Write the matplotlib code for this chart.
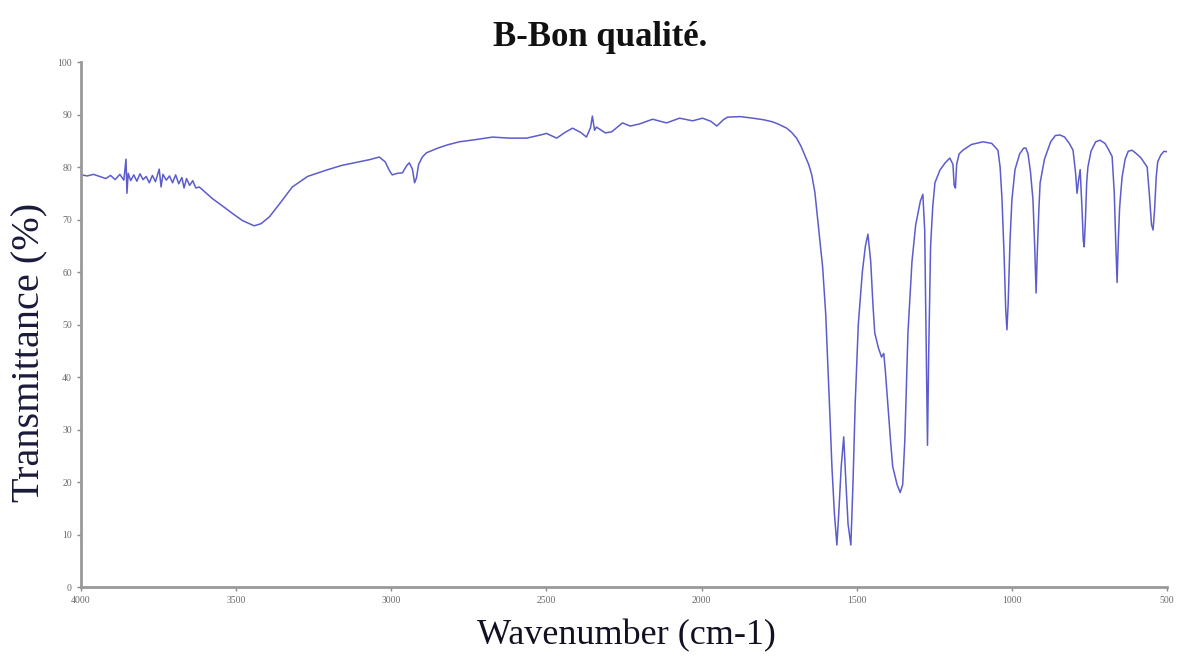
import matplotlib.pyplot as plt

# IR spectrum, wavenumber (cm-1) vs transmittance (%)
wavenumber = [
    3998, 3980, 3960, 3940, 3920, 3905, 3890, 3875, 3862, 3855, 3852, 3848,
    3840, 3830, 3820, 3810, 3800, 3790, 3780, 3770, 3760, 3748, 3742, 3736,
    3725, 3715, 3705, 3695, 3685, 3675, 3668, 3660, 3650, 3640, 3630, 3619,
    3577, 3540, 3513, 3480, 3442, 3420, 3393, 3360, 3319, 3270, 3210, 3160,
    3103, 3070, 3039, 3020, 3005, 2997, 2980, 2964, 2950, 2942, 2932, 2925,
    2919, 2912, 2900, 2887, 2850, 2820, 2781, 2730, 2674, 2620, 2564, 2519,
    2500, 2467, 2440, 2416, 2390, 2371, 2358, 2352, 2345, 2339, 2310, 2290,
    2255, 2230, 2200, 2158, 2113, 2071, 2029, 1997, 1970, 1951, 1930, 1916,
    1875, 1835, 1800, 1771, 1750, 1726, 1710, 1694, 1680, 1668, 1655, 1645,
    1635, 1629, 1620, 1610, 1600, 1593, 1586, 1580, 1572, 1564, 1558, 1550,
    1542, 1535, 1528, 1519, 1512, 1505, 1495, 1482, 1472, 1464, 1455, 1448,
    1442, 1430, 1420, 1413, 1408, 1400, 1390, 1384, 1370, 1360, 1352, 1345,
    1335, 1322, 1310, 1295, 1287, 1281, 1276, 1272, 1268, 1262, 1255, 1248,
    1232, 1215, 1200, 1190, 1186, 1182, 1178, 1170, 1158, 1130, 1093, 1065,
    1045, 1038, 1032, 1025, 1020, 1016, 1012, 1006, 1000, 990, 975, 962,
    955, 948, 940, 932, 926, 922, 918, 913, 909, 895, 875, 860,
    845, 830, 815, 803, 795, 790, 785, 780, 774, 770, 767, 763,
    759, 755, 745, 730, 716, 700, 690, 677, 670, 665, 661, 657,
    653, 651, 645, 635, 625, 613, 600, 585, 570, 564, 556, 550,
    545, 540, 535, 530, 520, 510, 500,
]
transmittance = [
    78.5, 78.3, 78.6, 78.2, 77.8, 78.4, 77.6, 78.6, 77.5, 81.5, 75.0, 78.8,
    77.4, 78.5, 77.3, 78.7, 77.6, 78.2, 77.0, 78.4, 77.2, 79.6, 76.2, 78.6,
    77.5, 78.3, 77.0, 78.5, 76.8, 78.0, 76.0, 77.8, 76.5, 77.4, 76.0, 76.2,
    74.0, 72.4, 71.2, 69.8, 68.8, 69.2, 70.5, 73.0, 76.2, 78.2, 79.4, 80.3,
    81.0, 81.4, 81.9, 81.0, 79.2, 78.5, 78.8, 78.9, 80.3, 80.8, 79.6, 77.0,
    77.9, 80.5, 81.9, 82.7, 83.6, 84.2, 84.8, 85.2, 85.7, 85.5, 85.5, 86.1,
    86.4, 85.5, 86.6, 87.4, 86.6, 85.7, 87.5, 89.7, 87.0, 87.6, 86.5, 86.7,
    88.4, 87.8, 88.2, 89.1, 88.4, 89.3, 88.8, 89.3, 88.7, 87.8, 89.0, 89.5,
    89.6, 89.3, 89.0, 88.6, 88.1, 87.4, 86.6, 85.5, 84.0, 82.3, 80.5, 78.5,
    75.2, 71.8, 66.5, 61.0, 52.0, 42.0, 32.0, 22.9, 14.0, 8.0, 14.0, 23.0,
    28.6, 20.0, 12.0, 8.0, 20.0, 35.0, 50.0, 60.0, 65.0, 67.2, 62.0, 54.0,
    48.4, 45.5, 43.8, 44.5, 41.3, 35.0, 27.0, 22.9, 19.5, 18.0, 19.5, 28.0,
    48.4, 62.0, 69.0, 73.5, 74.8, 68.0, 45.0, 27.0, 45.0, 65.0, 72.5, 77.0,
    79.4, 80.8, 81.7, 80.5, 76.5, 76.0, 80.5, 82.5, 83.2, 84.3, 84.8, 84.5,
    83.2, 80.0, 74.0, 63.0, 53.0, 49.0, 54.0, 66.0, 73.7, 79.5, 82.5, 83.6,
    83.6, 82.5, 79.0, 73.7, 64.0, 56.0, 64.0, 72.0, 77.0, 81.5, 84.8, 86.0,
    86.1, 85.7, 84.5, 83.2, 79.0, 75.0, 77.5, 79.5, 72.0, 66.0, 64.8, 70.0,
    77.0, 80.0, 83.0, 84.8, 85.1, 84.5, 83.5, 82.0, 75.0, 65.0, 58.0, 66.0,
    72.0, 73.7, 78.0, 81.5, 83.0, 83.2, 82.6, 81.8, 80.5, 80.0, 74.0, 69.0,
    68.0, 72.0, 78.0, 81.0, 82.3, 83.0, 82.9,
]
x_ticks = [4000, 3500, 3000, 2500, 2000, 1500, 1000, 500]
y_ticks = [0, 10, 20, 30, 40, 50, 60, 70, 80, 90, 100]

fig = plt.figure(figsize=(11.95, 6.66), dpi=100)
ax = fig.add_axes([0.0678, 0.1186, 0.9088, 0.7883])

ax.plot(wavenumber, transmittance, color='#5c5ccc', lw=1.1)

ax.set_xlim(4000, 500)
ax.set_ylim(0, 100)
ax.set_xticks(x_ticks)
ax.set_yticks(y_ticks)
ax.tick_params(axis='both', labelsize=7, labelcolor='#6a6a6a', color='#888888',
               length=3, width=1, direction='out')
for lbl in ax.get_xticklabels() + ax.get_yticklabels():
    lbl.set_family('Liberation Serif')

for side in ['top', 'right']:
    ax.spines[side].set_visible(False)
for side in ['left', 'bottom']:
    ax.spines[side].set_color('#999999')
    ax.spines[side].set_linewidth(2)

fig.text(0.502, 0.944, 'B-Bon qualité.', ha='center', va='center',
         family='Liberation Serif', weight='bold', fontsize=25, color='#111111')
fig.text(0.524, 0.046, 'Wavenumber (cm-1)', ha='center', va='center',
         family='Liberation Serif', fontsize=26, color='#111122')
fig.text(0.025, 0.471, 'Transmittance (%)', ha='center', va='center',
         rotation=90, family='Liberation Serif', fontsize=29, color='#1a1a3a')

fig.savefig('out.png', dpi=100)
